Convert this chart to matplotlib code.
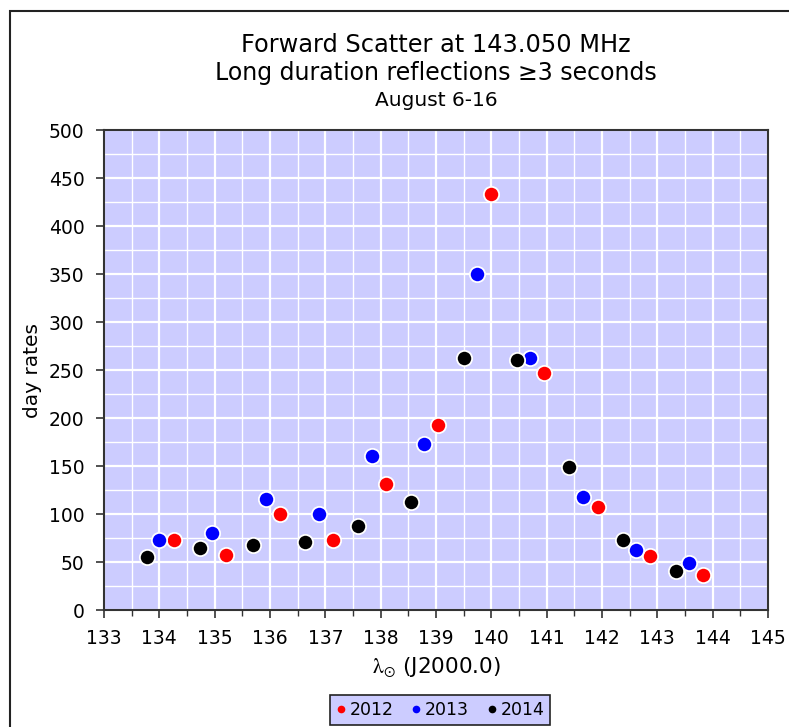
import matplotlib
matplotlib.use('Agg')
import matplotlib.pyplot as plt
from matplotlib.ticker import MultipleLocator

# solar longitude positions and day rates per year
lon_2012 = [134.26, 135.20, 136.18, 137.13, 138.09, 139.04, 139.99, 140.95, 141.92, 142.87, 143.83]
rate_2012 = [73, 57, 100, 73, 131, 193, 433, 247, 107, 56, 36]

lon_2013 = [134.00, 134.96, 135.93, 136.88, 137.84, 138.78, 139.74, 140.70, 141.66, 142.62, 143.58]
rate_2013 = [73, 80, 116, 100, 160, 173, 350, 262, 118, 62, 49]

lon_2014 = [133.77, 134.73, 135.69, 136.64, 137.59, 138.55, 139.51, 140.47, 141.41, 142.38, 143.34]
rate_2014 = [55, 65, 68, 71, 88, 112, 262, 260, 149, 73, 41]

years = ['2012', '2013', '2014']
colors = ['#ff0000', '#0000ff', '#000000']

###############################################################################

plt.rcParams['mathtext.fontset'] = 'stix'

fig = plt.figure(figsize=(7.89, 7.27), dpi=100)
fig.patch.set_facecolor('white')

# outer frame of the chart image (runs off right and bottom edges)
frame_top = 1 - 11 / 727
frame = plt.Rectangle((10 / 789, -0.2), 1.2, frame_top + 0.2,
                      transform=fig.transFigure, fill=False,
                      edgecolor='#222222', linewidth=1.5)
fig.patches.append(frame)

axes = fig.add_axes([104 / 789, 117 / 727, 664 / 789, 480 / 727])
axes.set_facecolor('#ccccff')

series = [(lon_2012, rate_2012), (lon_2013, rate_2013), (lon_2014, rate_2014)]
for (xs, ys), label, color in zip(series, years, colors):
    axes.plot(xs, ys, linestyle='none', marker='o', markersize=11,
              markerfacecolor=color, markeredgecolor='white',
              markeredgewidth=1.3, label=label, zorder=3)

axes.set_xlim(133, 145)
axes.set_ylim(0, 500)
axes.xaxis.set_major_locator(MultipleLocator(1))
axes.xaxis.set_minor_locator(MultipleLocator(0.5))
axes.yaxis.set_major_locator(MultipleLocator(50))
axes.yaxis.set_minor_locator(MultipleLocator(25))

axes.grid(which='major', color='white', linewidth=1.6)
axes.grid(which='minor', color='white', linewidth=1.0)
axes.set_axisbelow(True)

for spine in axes.spines.values():
    spine.set_color('#333333')
    spine.set_linewidth(1.5)

axes.tick_params(which='major', direction='out', length=6, width=1.2,
                 color='#333333', labelsize=13.5, pad=4)
axes.tick_params(axis='x', which='minor', direction='out', length=4,
                 width=1.0, color='#333333')
axes.tick_params(axis='y', which='minor', length=0)
axes.tick_params(axis='x', which='major', pad=8)
axes.tick_params(axis='y', which='major', pad=8)

axes.set_ylabel('day rates', fontsize=14.5, labelpad=5)
axes.set_xlabel(r'$\mathrm{\lambda}_{\odot}$ (J2000.0)', fontsize=15.5,
                labelpad=5)

fig.text(436 / 789, 1 - 45 / 727, 'Forward Scatter at 143.050 MHz',
         ha='center', va='center', fontsize=17.3)
fig.text(436 / 789, 1 - 73 / 727, 'Long duration reflections \u22653 seconds',
         ha='center', va='center', fontsize=17)
fig.text(436 / 789, 1 - 100 / 727, 'August 6-16',
         ha='center', va='center', fontsize=14.5)

handles, labels = axes.get_legend_handles_labels()
legend = fig.legend(handles, labels, loc='center', ncol=3,
                    bbox_to_anchor=(440 / 789, 1 - 710 / 727),
                    fontsize=12.5, frameon=True, fancybox=False,
                    markerscale=0.5, handlelength=0.6, handletextpad=0.2,
                    columnspacing=1.0, borderpad=0.35)
legend.get_frame().set_facecolor('#ccccff')
legend.get_frame().set_edgecolor('#222222')
legend.get_frame().set_linewidth(1.2)
legend.get_frame().set_alpha(1.0)
for handle in legend.legend_handles:
    handle.set_markeredgewidth(0)

fig.savefig('out.png', dpi=100)
